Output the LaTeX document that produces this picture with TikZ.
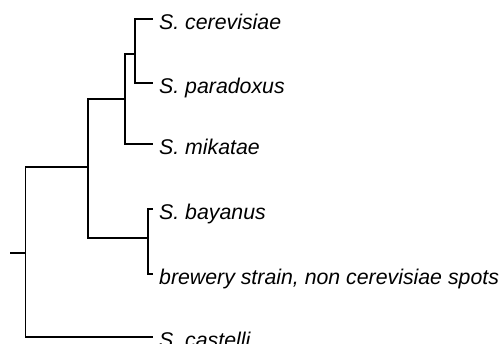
\documentclass[tikz,border=0pt]{standalone}
\usepackage{fontspec}
\setmainfont{Liberation Sans}
\begin{document}
\begin{tikzpicture}[x=1pt,y=-1pt,
  branch/.style={line width=1.3pt,black},
  leaf/.style={anchor=base west,inner sep=0pt,font=\fontsize{21.3}{25}\selectfont\itshape}]
\useasboundingbox (0,0) rectangle (502,343);
% internal nodes
\coordinate (r0) at (10,253);
\coordinate (r) at (25.5,253);
\coordinate (B) at (88,167);
\coordinate (C) at (125,99);
\coordinate (D) at (148,238);
\coordinate (E) at (135,54);
% leaf tips
\coordinate (tcer) at (153,19);
\coordinate (tpar) at (153,83);
\coordinate (tmik) at (153,144);
\coordinate (tbay) at (153,209);
\coordinate (tbre) at (153,274);
\coordinate (tcas) at (153,337);
% labels
\node[leaf] (lcer) at (159,29.5) {S. cerevisiae};
\node[leaf] (lpar) at (159,93.5) {S. paradoxus};
\node[leaf] (lmik) at (159,154.5) {S. mikatae};
\node[leaf] (lbay) at (159,219.5) {S. bayanus};
\node[leaf] (lbre) at (159,284.5) {brewery strain, non cerevisiae spots};
\node[leaf] (lcas) at (159,347.5) {S. castelli};
% branches
\draw[branch] (r0) -- (r);
\draw[branch] (r) |- (B);
\draw[branch] (r) |- (tcas);
\draw[branch] (B) |- (C);
\draw[branch] (B) |- (D);
\draw[branch] (C) |- (E);
\draw[branch] (C) |- (tmik);
\draw[branch] (E) |- (tcer);
\draw[branch] (E) |- (tpar);
\draw[branch] (D) |- (tbay);
\draw[branch] (D) |- (tbre);
\end{tikzpicture}
\end{document}
